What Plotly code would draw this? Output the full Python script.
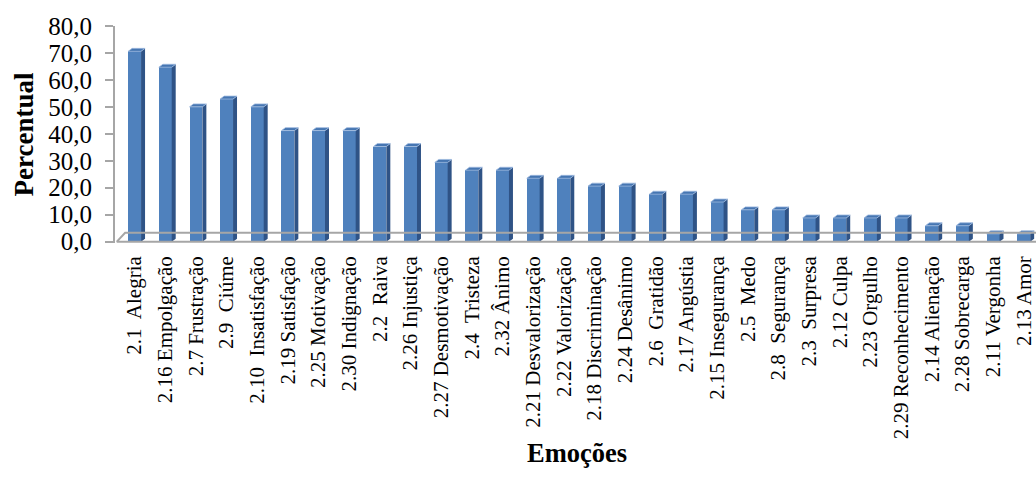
import plotly.graph_objects as go

# Emotion categories (ordered as plotted) and their percentages
emocoes = [
    "2.1\u00a0 Alegria", "2.16 Empolgação", "2.7 Frustração", "2.9\u00a0 Ciúme",
    "2.10\u00a0 Insatisfação", "2.19 Satisfação", "2.25 Motivação", "2.30 Indignação",
    "2.2\u00a0 Raiva", "2.26 Injustiça", "2.27 Desmotivação", "2.4\u00a0 Tristeza",
    "2.32 Ânimo", "2.21 Desvalorização", "2.22 Valorização", "2.18 Discriminação",
    "2.24 Desânimo", "2.6\u00a0 Gratidão", "2.17 Angústia", "2.15 Insegurança",
    "2.5\u00a0 Medo", "2.8\u00a0 Segurança", "2.3\u00a0 Surpresa", "2.12 Culpa",
    "2.23 Orgulho", "2.29 Reconhecimento", "2.14 Alienação", "2.28 Sobrecarga",
    "2.11 Vergonha", "2.13 Amor",
]
percentual = [
    70.6, 64.7, 50.0, 52.9, 50.0, 41.2, 41.2, 41.2, 35.3, 35.3,
    29.4, 26.5, 26.5, 23.5, 23.5, 20.6, 20.6, 17.6, 17.6, 14.7,
    11.8, 11.8, 8.8, 8.8, 8.8, 8.8, 5.9, 5.9, 2.9, 2.9,
]
y_ticks = [0, 10, 20, 30, 40, 50, 60, 70, 80]

FONT = "Liberation Serif, Times New Roman, serif"
FRONT = "#4F81BD"
SIDE = "#2F5386"
TOP = "#4676B2"
GRID = "#A6A6A6"

W, H = 1036, 479
M_L, M_R, M_T, M_B = 115, 0, 26, 236

pos = list(range(len(emocoes)))
bar_w = 0.42          # front face width (category units)
depth_x = 0.13        # oblique depth, horizontal (category units)
depth_y = 1.1         # oblique depth, vertical (value units)
x_range = [-0.64, 29.40]
y_range = [-0.5, 80]

fig = go.Figure()

# front faces of the columns
fig.add_trace(go.Bar(
    x=pos, y=percentual, width=bar_w,
    marker=dict(color=FRONT, line=dict(width=0)),
    hoverinfo="skip", showlegend=False,
))

# side and top faces give the columns their 3-D look
side_x, side_y, top_x, top_y = [], [], [], []
for p, v in zip(pos, percentual):
    r = p + bar_w / 2
    l = p - bar_w / 2
    side_x += [r, r + depth_x, r + depth_x, r, r, None]
    side_y += [0, depth_y, v + depth_y, v, 0, None]
    top_x += [l, r, r + depth_x, l + depth_x, l, None]
    top_y += [v, v, v + depth_y, v + depth_y, v, None]

fig.add_trace(go.Scatter(
    x=side_x, y=side_y, mode="lines", fill="toself", fillcolor=SIDE,
    line=dict(width=0, color=SIDE), hoverinfo="skip", showlegend=False,
))
fig.add_trace(go.Scatter(
    x=top_x, y=top_y, mode="lines", fill="toself", fillcolor=TOP,
    line=dict(width=0.8, color="#9DB9DE"), hoverinfo="skip", showlegend=False,
))

# floor of the chart: front edge, back edge and left bevel
fx0 = x_range[0] + 0.06
fdx = 0.27
fdy = 3.3
fig.add_trace(go.Scatter(
    x=[x_range[1], fx0, fx0 + fdx, x_range[1]],
    y=[0, 0, fdy, fdy],
    mode="lines", line=dict(color=GRID, width=2),
    hoverinfo="skip", showlegend=False,
))

plot_w = W - M_L - M_R
plot_h = H - M_T - M_B

fig.update_layout(
    width=W, height=H,
    margin=dict(l=M_L, r=M_R, t=M_T, b=M_B),
    paper_bgcolor="white", plot_bgcolor="white",
    separators=", ",
    font=dict(family=FONT, color="black"),
    bargap=0,
    annotations=[
        dict(text="<b>Emoções</b>", xref="paper", yref="paper",
             x=(577 - M_L) / plot_w, y=-(453 - (H - M_B)) / plot_h,
             xanchor="center", yanchor="middle", showarrow=False,
             font=dict(size=26.5, family=FONT, color="black")),
        dict(text="<b>Percentual</b>", xref="paper", yref="paper",
             x=(23 - M_L) / plot_w, y=0.5, textangle=-90,
             xanchor="center", yanchor="middle", showarrow=False,
             font=dict(size=27, family=FONT, color="black")),
    ],
)

fig.update_xaxes(
    range=x_range,
    tickmode="array", tickvals=pos, ticktext=emocoes,
    tickangle=-90, tickfont=dict(size=21, family=FONT, color="black"),
    ticks="", showline=False, showgrid=False, zeroline=False,
    ticklabelstandoff=8,
)
fig.update_yaxes(
    range=y_range,
    tickmode="array", tickvals=y_ticks, tickformat=".1f",
    tickfont=dict(size=25, family=FONT, color="black"),
    ticks="outside", ticklen=8, tickwidth=2, tickcolor=GRID,
    showline=True, linecolor=GRID, linewidth=2,
    showgrid=False, zeroline=False,
    ticklabelstandoff=8,
)

fig.write_html("out.html")
